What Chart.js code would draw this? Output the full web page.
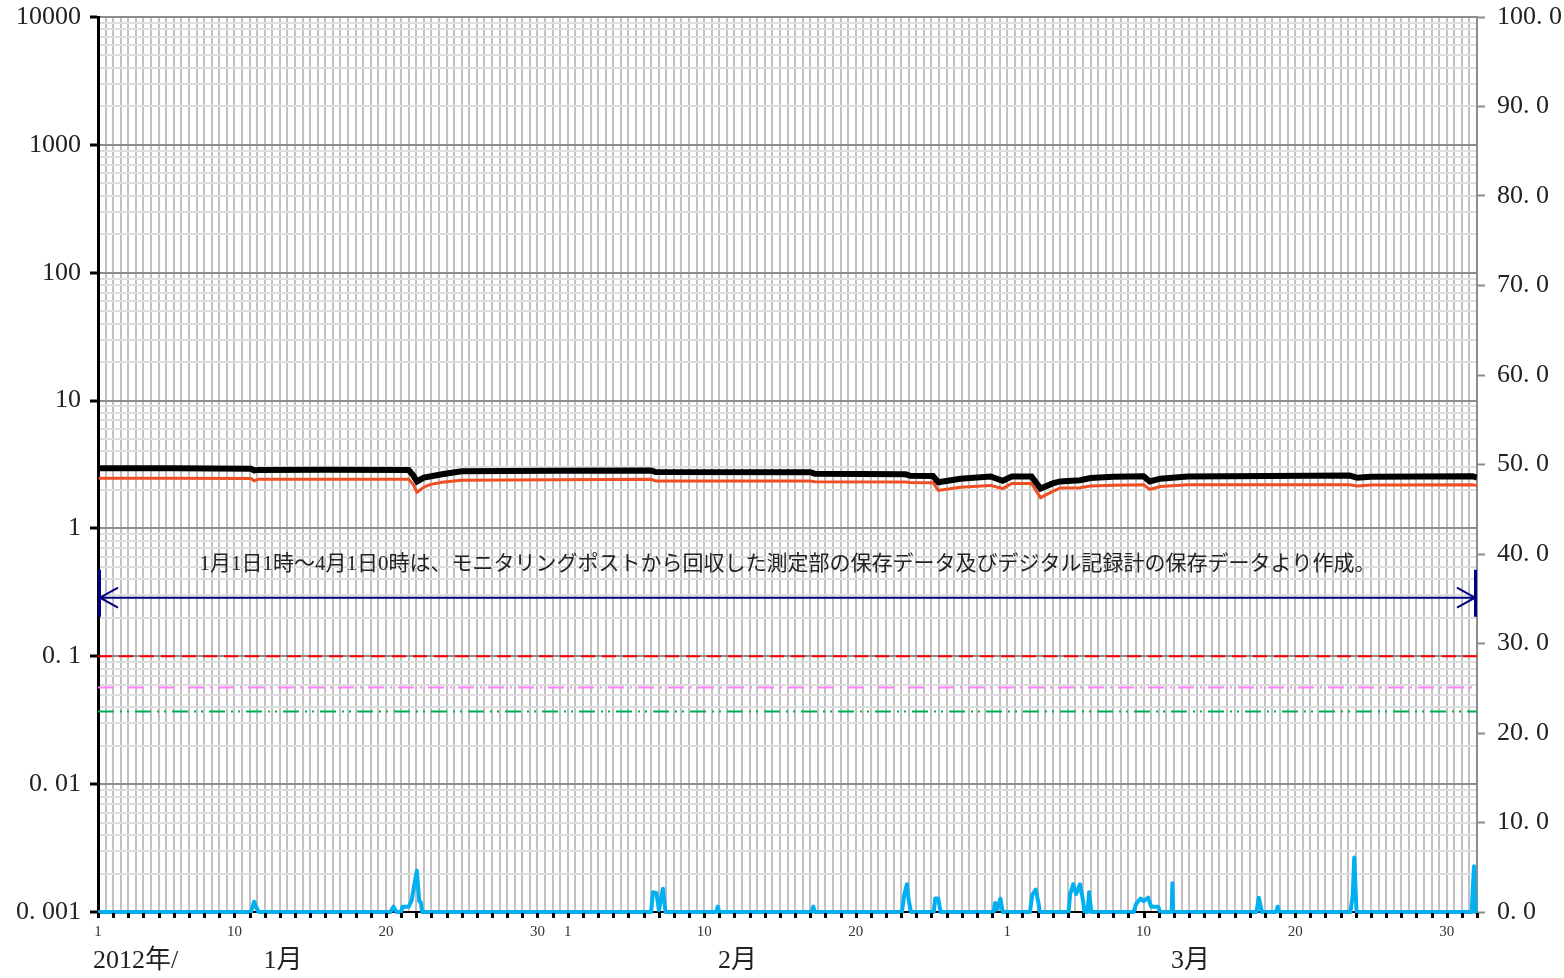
<!DOCTYPE html>
<html>
<head>
<meta charset="utf-8">
<script src="https://cdn.jsdelivr.net/npm/chart.js@4.4.0/dist/chart.umd.min.js"></script>
<style>
  body { margin: 0; background: #fff; }
  canvas { display: block; }
</style>
</head>
<body>
<canvas id="chart" width="1564" height="978"></canvas>
<script>
// time axis: days since 2012-01-01 00:00
var lineT = [0.04, 5, 10.1, 10.3, 10.6, 15, 20.5, 20.8, 21.05, 21.5, 21.9, 22.7, 24, 30,
  36.5, 36.8, 47.0, 47.3, 53.3, 53.6, 55.1, 55.45, 56.9, 58.9, 59.7, 60.3, 61.6, 62.2,
  63.0, 63.5, 64.8, 65.5, 67, 69, 69.4, 70.1, 71.9, 82.6, 83.1, 84, 90.7, 91];
// black line (left log axis)
var doseA = [2.96, 2.95, 2.93, 2.84, 2.87, 2.88, 2.86, 2.6, 2.33, 2.5, 2.55, 2.65, 2.8, 2.82,
  2.84, 2.76, 2.75, 2.68, 2.65, 2.58, 2.57, 2.3, 2.45, 2.55, 2.36, 2.55, 2.55, 2.05,
  2.25, 2.33, 2.38, 2.48, 2.54, 2.56, 2.33, 2.45, 2.55, 2.59, 2.49, 2.54, 2.56, 2.5];
// orange line (left log axis)
var doseB = [2.47, 2.47, 2.46, 2.36, 2.43, 2.43, 2.42, 2.2, 1.92, 2.1, 2.2, 2.3, 2.38, 2.4,
  2.42, 2.35, 2.35, 2.32, 2.31, 2.29, 2.28, 1.98, 2.1, 2.17, 2.05, 2.25, 2.25, 1.74,
  1.95, 2.07, 2.08, 2.15, 2.18, 2.2, 2.02, 2.13, 2.2, 2.2, 2.15, 2.19, 2.2, 2.17];
// blue line (right axis)
var rainT = [0, 10.1, 10.3, 10.45, 10.6, 19.3, 19.5, 19.7, 20.0, 20.1, 20.5, 20.7, 20.85, 21.04,
  21.2, 21.3, 21.4, 36.5, 36.62, 36.85, 37.02, 37.28, 37.45, 40.8, 40.9, 41.0, 47.1, 47.2,
  47.3, 53.05, 53.2, 53.38, 53.5, 53.65, 55.15, 55.25, 55.45, 55.6, 59.1, 59.2, 59.35, 59.55,
  59.7, 61.5, 61.65, 61.88, 62.05, 62.15, 64.05, 64.15, 64.35, 64.55, 64.8, 65.0, 65.1, 65.3,
  65.4, 65.55, 68.35, 68.5, 68.8, 69.0, 69.3, 69.5, 69.95, 70.1, 70.85, 70.9, 70.95, 76.45,
  76.6, 76.8, 77.75, 77.85, 77.95, 82.65, 82.8, 82.9, 83.05, 90.65, 90.8, 90.9, 91];
var rainV = [0, 0, 1.15, 0.5, 0, 0, 0.6, 0, 0, 0.6, 0.6, 1.3, 2.8, 4.6,
  1.2, 1.1, 0, 0, 2.2, 2.1, 0.2, 2.6, 0, 0, 0.6, 0, 0, 0.6,
  0, 0, 1.9, 3.1, 1.3, 0, 0, 1.5, 1.5, 0, 0, 1.0, 0.3, 1.5,
  0, 0, 1.9, 2.5, 1.1, 0, 0, 2.0, 3.1, 2.0, 3.1, 1.3, 0, 0,
  2.2, 0, 0, 0.9, 1.5, 1.2, 1.6, 0.6, 0.6, 0, 0, 3.2, 0, 0,
  1.6, 0, 0, 0.6, 0, 0, 1.9, 6.1, 0, 0, 5.1, 0, 0];
// reference levels (left log axis)
var levelRed = 0.1, levelPink = 0.057, levelGreen = 0.037;

var leftLabels = { '10000': '10000', '1000': '1000', '100': '100', '10': '10', '1': '1',
  '0.1': '0. 1', '0.01': '0. 01', '0.001': '0. 001' };
var rightLabels = ['0. 0', '10. 0', '20. 0', '30. 0', '40. 0', '50. 0', '60. 0', '70. 0', '80. 0', '90. 0', '100. 0'];
var monthNames = ['1月', '2月', '3月'];
var monthLabelT = [12.2, 42.2, 72.1];
var yearLabel = '2012年/';
var noteText = '1月1日1時～4月1日0時は、モニタリングポストから回収した測定部の保存データ及びデジタル記録計の保存データより作成。';

var serif = '"Liberation Serif", "Noto Sans CJK JP", serif';

function pts(t, v) {
  return t.map(function(x, i) { return { x: x, y: v[i] }; });
}
function flat(v) {
  return [{ x: 0, y: v }, { x: 91, y: v }];
}
function isDecade(v) {
  var e = Math.log10(v);
  return Math.abs(e - Math.round(e)) < 1e-9;
}
function dayLabel(t) {
  if (Math.abs(t - Math.round(t)) > 1e-6) return '';
  t = Math.round(t);
  var d;
  if (t < 31) d = t + 1;
  else if (t < 60) d = t - 30;
  else d = t - 59;
  return (d == 1 || d == 10 || d == 20 || d == 30) && t < 91 ? String(d) : '';
}
function fixTop(s) {
  s.paddingTop = 17;
  s.paddingBottom = 0;
}

// note, arrow, day ticks and month labels
var extras = {
  id: 'extras',
  afterDraw: function(chart) {
    var ctx = chart.ctx, xs = chart.scales.x, ys = chart.scales.y;
    var x0 = xs.getPixelForValue(0), x1 = xs.getPixelForValue(91);
    var ay = ys.getPixelForValue(0.287);
    var bottom = chart.chartArea.bottom;
    ctx.save();

    // day tick marks under the axis
    ctx.strokeStyle = '#000';
    ctx.lineWidth = 3;
    ctx.beginPath();
    for (var d = 0; d <= 91; d++) {
      var px = Math.round(xs.getPixelForValue(d)) + 0.5;
      ctx.moveTo(px, bottom + 1);
      ctx.lineTo(px, bottom + 6);
    }
    ctx.stroke();

    ctx.strokeStyle = '#000080';
    ctx.lineWidth = 2;
    ctx.beginPath();
    ctx.moveTo(x0 + 2, ay); ctx.lineTo(x1 - 2, ay);
    ctx.moveTo(x0 + 20, ay - 10); ctx.lineTo(x0 + 2, ay); ctx.lineTo(x0 + 20, ay + 10);
    ctx.moveTo(x1 - 20, ay - 10); ctx.lineTo(x1 - 2, ay); ctx.lineTo(x1 - 20, ay + 10);
    ctx.stroke();
    ctx.lineWidth = 3;
    ctx.beginPath();
    ctx.moveTo(x0 + 1.5, ay - 28); ctx.lineTo(x0 + 1.5, ay + 19);
    ctx.moveTo(x1 - 1.5, ay - 28); ctx.lineTo(x1 - 1.5, ay + 19);
    ctx.stroke();

    ctx.fillStyle = '#222';
    ctx.font = '21px ' + serif;
    ctx.textAlign = 'center';
    ctx.textBaseline = 'middle';
    ctx.fillText(noteText, (x0 + x1) / 2, ay - 33);

    ctx.font = '26px ' + serif;
    ctx.textAlign = 'left';
    ctx.fillText(yearLabel, 93, 961);
    ctx.textAlign = 'center';
    for (var i = 0; i < monthNames.length; i++) {
      ctx.fillText(monthNames[i], xs.getPixelForValue(monthLabelT[i]), 961);
    }
    ctx.restore();
  }
};

var ctx = document.getElementById('chart').getContext('2d');
var myChart = new Chart(ctx, {
  type: 'line',
  data: {
    datasets: [{
      data: pts(rainT, rainV),
      yAxisID: 'y2',
      borderColor: '#00b0f0',
      borderWidth: 4,
      borderJoinStyle: 'round',
      clip: 5
    }, {
      data: pts(lineT, doseA),
      borderColor: '#000000',
      borderWidth: 6
    }, {
      data: pts(lineT, doseB),
      borderColor: '#f04e23',
      borderWidth: 3
    }, {
      data: flat(levelRed),
      borderColor: '#ff0000',
      borderWidth: 2,
      borderDash: [14, 7]
    }, {
      data: flat(levelPink),
      borderColor: '#ff80ff',
      borderWidth: 2,
      borderDash: [16, 6, 2, 6]
    }, {
      data: flat(levelGreen),
      borderColor: '#00b050',
      borderWidth: 2,
      borderDash: [16, 6, 2, 5, 2, 6]
    }]
  },
  options: {
    responsive: false,
    animation: false,
    elements: { point: { radius: 0 }, line: { tension: 0 } },
    layout: { padding: 0 },
    plugins: { legend: { display: false }, tooltip: { enabled: false } },
    scales: {
      x: {
        type: 'linear',
        min: 0,
        max: 91,
        afterFit: function(s) { s.height = 66; },
        border: { color: '#000', width: 2 },
        grid: {
          color: '#c0c0c0',
          lineWidth: 2,
          drawTicks: false
        },
        ticks: {
          stepSize: 0.5,
          maxTicksLimit: 1000,
          autoSkip: false,
          maxRotation: 0,
          padding: 11,
          color: '#333',
          font: { family: serif, size: 15 },
          callback: function(v) { return dayLabel(v); }
        }
      },
      y: {
        type: 'logarithmic',
        position: 'left',
        min: 0.001,
        max: 10000,
        afterFit: function(s) { s.width = 98; fixTop(s); },
        afterBuildTicks: function(s) {
          var t = [];
          for (var e = -3; e <= 4; e++) {
            for (var m = 1; m <= 9; m++) {
              var v = parseFloat((m * Math.pow(10, e)).toPrecision(6));
              if (v <= 10000) t.push({ value: v });
            }
          }
          s.ticks = t;
        },
        border: { color: '#000', width: 3 },
        grid: {
          lineWidth: 2,
          tickLength: 8,
          tickWidth: 3,
          color: function(c) {
            return c.tick && isDecade(c.tick.value) ? '#8c8c8c' : '#dedede';
          },
          tickColor: function(c) {
            return c.tick && isDecade(c.tick.value) ? '#000' : 'rgba(0,0,0,0)';
          }
        },
        ticks: {
          autoSkip: false,
          padding: 9,
          color: '#222',
          font: { family: serif, size: 26 },
          callback: function(v) {
            var k = String(parseFloat(v.toPrecision(6)));
            return leftLabels[k] || '';
          }
        }
      },
      y2: {
        type: 'linear',
        position: 'right',
        min: 0,
        max: 100,
        afterFit: function(s) { s.width = 87; fixTop(s); },
        border: { color: '#8c8c8c', width: 2 },
        grid: { drawOnChartArea: false, tickLength: 8, tickWidth: 2, tickColor: '#8c8c8c' },
        ticks: {
          stepSize: 10,
          padding: 12,
          color: '#222',
          font: { family: serif, size: 26 },
          callback: function(v) { return rightLabels[Math.round(v / 10)]; }
        }
      }
    }
  },
  plugins: [extras]
});
</script>
</body>
</html>
